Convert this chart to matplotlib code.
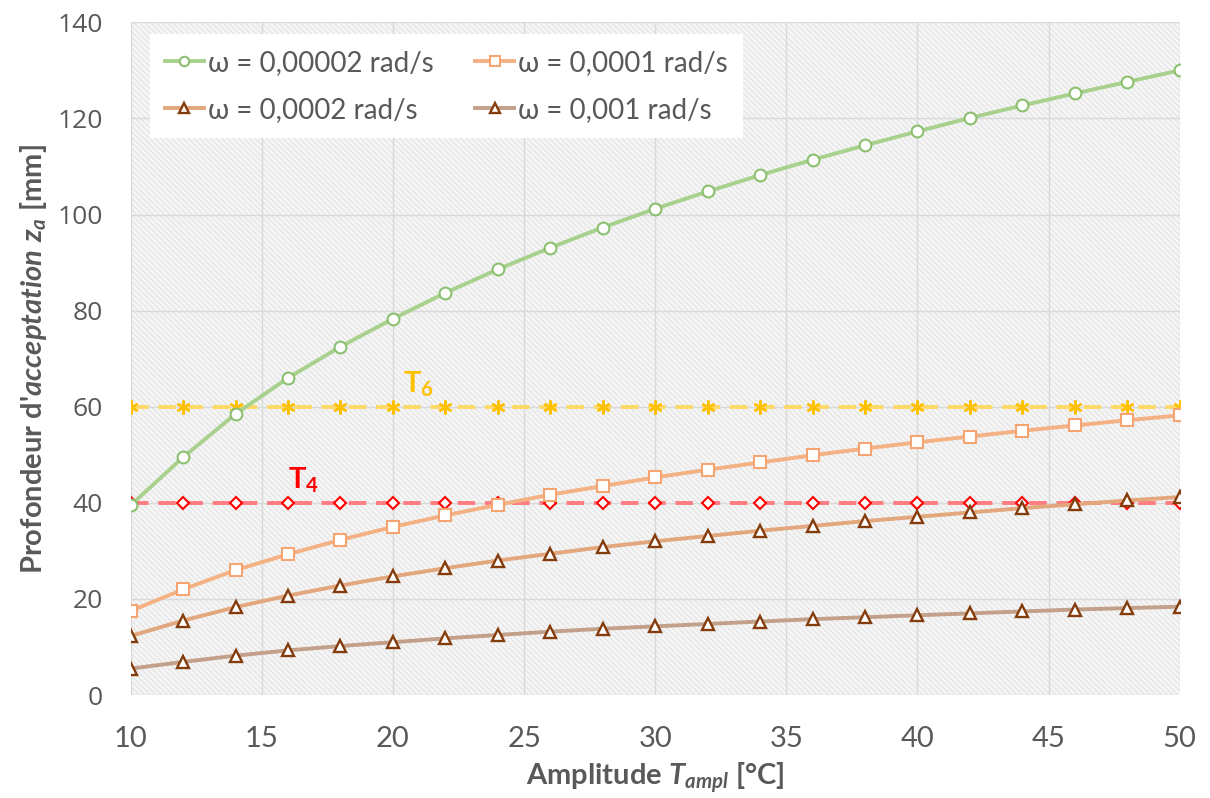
import matplotlib
matplotlib.use("Agg")
import matplotlib.pyplot as plt
from matplotlib.patches import Rectangle

plt.rcParams['mathtext.fontset'] = 'custom'
plt.rcParams['mathtext.rm'] = 'Lato:bold'
plt.rcParams['mathtext.it'] = 'Lato:italic:bold'
plt.rcParams['mathtext.bf'] = 'Lato:bold'
plt.rcParams['hatch.color'] = '#DADADA'
plt.rcParams['hatch.linewidth'] = 0.5

x = [10, 12, 14, 16, 18, 20, 22, 24, 26, 28, 30, 32, 34, 36, 38, 40, 42, 44, 46, 48, 50]
w_00002 = [39.5, 49.5, 58.5, 66.0, 72.5, 78.3, 83.7, 88.6, 93.1, 97.3, 101.2, 104.8, 108.2, 111.4, 114.4, 117.3, 120.1, 122.7, 125.2, 127.6, 130.0]
w_0001 = [17.5, 22.0, 26.0, 29.3, 32.3, 35.0, 37.4, 39.6, 41.7, 43.5, 45.3, 46.9, 48.4, 49.9, 51.3, 52.6, 53.8, 55.0, 56.1, 57.2, 58.2]
w_0002 = [12.3, 15.5, 18.3, 20.7, 22.8, 24.7, 26.4, 28.0, 29.4, 30.8, 32.0, 33.1, 34.2, 35.2, 36.2, 37.1, 38.0, 38.9, 39.7, 40.5, 41.2]
w_001 = [5.5, 6.9, 8.2, 9.3, 10.2, 11.0, 11.8, 12.5, 13.2, 13.8, 14.3, 14.8, 15.3, 15.8, 16.2, 16.6, 17.0, 17.4, 17.8, 18.1, 18.4]
t6 = [60] * len(x)
t4 = [40] * len(x)
labels = ["ω = 0,00002 rad/s", "ω = 0,0001 rad/s", "ω = 0,0002 rad/s", "ω = 0,001 rad/s"]

fig = plt.figure(figsize=(12.1, 7.98), dpi=100)
ax = fig.add_axes([0.108, 0.129, 0.867, 0.843])
ax.set_facecolor('#F5F5F5')
ax.add_patch(Rectangle((0, 0), 1, 1, transform=ax.transAxes, facecolor='none',
                       edgecolor='#DADADA', hatch='\\\\\\\\\\\\', lw=0, zorder=0))

ax.plot(x, t6, color='#FFD966', lw=2.8, dashes=(4.5, 2.5), zorder=2)
ax.plot(x, t6, ls='none', marker=(6, 2, 0), ms=10, mew=1.7, color='#FFC000', zorder=3)
ax.plot(x, t4, color='#FF7C80', lw=2.8, dashes=(4.5, 2.5), zorder=2)
ax.plot(x, t4, ls='none', marker='D', ms=6.5, mew=1.5, mfc='white', mec='#FF0000', zorder=3)

l1, = ax.plot(x, w_00002, color='#A9D18E', lw=2.8, marker='o', ms=8.5, mfc='white', mec='#8CC070', mew=1.5, zorder=4)
l2, = ax.plot(x, w_0001, color='#F4B183', lw=2.8, marker='s', ms=8.5, mfc='white', mec='#F4A572', mew=1.5, zorder=4)
l3, = ax.plot(x, w_0002, color='#E3A77E', lw=2.8, marker='^', ms=8.5, mfc='white', mec='#843C0C', mew=1.7, zorder=4)
l4, = ax.plot(x, w_001, color='#C3A08A', lw=2.8, marker='^', ms=8.5, mfc='white', mec='#843C0C', mew=1.7, zorder=4)

ax.text(20.4, 63, r'T$_\mathregular{6}$', color='#FFC000', fontsize=21, fontweight='bold',
        family='Lato', zorder=5)
ax.text(16.0, 43, r'T$_\mathregular{4}$', color='#FF0000', fontsize=21, fontweight='bold',
        family='Lato', zorder=5)

ax.set_xlim(10, 50)
ax.set_ylim(0, 140)
ax.set_xticks(range(10, 51, 5))
ax.set_yticks(range(0, 141, 20))
ax.grid(True, color='#D9D9D9', lw=1, zorder=1)
ax.set_axisbelow(True)
for s in ax.spines.values():
    s.set_visible(False)
ax.tick_params(length=0, colors='#595959')
ax.tick_params(axis='x', pad=22)
ax.tick_params(axis='y', pad=20)
for t in ax.get_xticklabels():
    t.set_fontfamily('Lato'); t.set_fontsize(21)
for t in ax.get_yticklabels():
    t.set_fontfamily('Open Sans'); t.set_fontsize(19)

ax.set_xlabel(r"Amplitude $T_{ampl}$ [°C]", fontsize=21, fontweight='bold', color='#595959',
              family='Lato', labelpad=6)
ax.set_ylabel(r"Profondeur d'$acceptation\ z_a$ [mm]", fontsize=21, fontweight='bold',
              color='#595959', family='Lato', labelpad=6)

leg = ax.legend([l1, l3, l2, l4], [labels[0], labels[2], labels[1], labels[3]], ncol=2,
                loc='upper left', bbox_to_anchor=(0.018, 0.982),
                frameon=True, fancybox=False, framealpha=1, edgecolor='white', facecolor='white',
                prop={'family': 'Lato', 'size': 20}, handlelength=1.4, handletextpad=0.15,
                columnspacing=1.5, labelspacing=0.75, borderpad=0.55, markerscale=0.8,
                borderaxespad=0)
leg.get_frame().set_linewidth(0)
for t in leg.get_texts():
    t.set_color('#595959')

fig.savefig('out.png', dpi=100, facecolor='white')
